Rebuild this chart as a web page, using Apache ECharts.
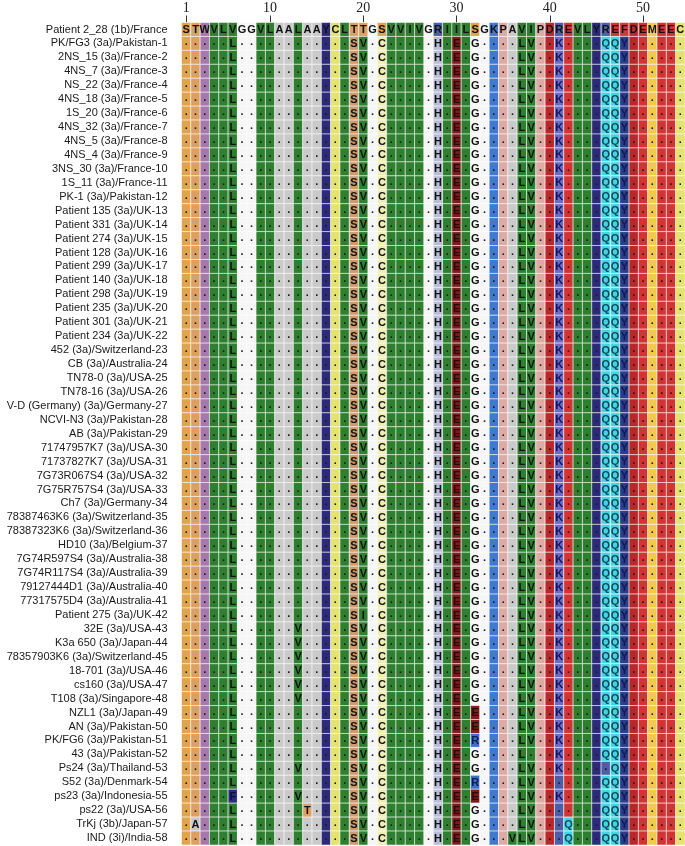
<!DOCTYPE html>
<html><head><meta charset="utf-8">
<script src="https://cdn.jsdelivr.net/npm/echarts@6/dist/echarts.min.js"></script>
<style>html,body{margin:0;padding:0;background:#fff}#c{width:685px;height:846px}</style>
</head><body><div id="c"></div>
<script>
// ---- data ----
const reference = 'STWVLVGGVLAALAAYCLTTGSVVIVGRIILSGKPAVIPDREVLYREFDEMEEC';
const tickPositions = ['1', '10', '20', '30', '40', '50'];
const names = [
  'Patient 2_28 (1b)/France',
  'PK/FG3 (3a)/Pakistan-1',
  '2NS_15 (3a)/France-2',
  '4NS_7 (3a)/France-3',
  'NS_22 (3a)/France-4',
  '4NS_18 (3a)/France-5',
  '1S_20 (3a)/France-6',
  '4NS_32 (3a)/France-7',
  '4NS_5 (3a)/France-8',
  '4NS_4 (3a)/France-9',
  '3NS_30 (3a)/France-10',
  '1S_11 (3a)/France-11',
  'PK-1 (3a)/Pakistan-12',
  'Patient 135 (3a)/UK-13',
  'Patient 331 (3a)/UK-14',
  'Patient 274 (3a)/UK-15',
  'Patient 128 (3a)/UK-16',
  'Patient 299 (3a)/UK-17',
  'Patient 140 (3a)/UK-18',
  'Patient 298 (3a)/UK-19',
  'Patient 235 (3a)/UK-20',
  'Patient 301 (3a)/UK-21',
  'Patient 234 (3a)/UK-22',
  '452 (3a)/Switzerland-23',
  'CB (3a)/Australia-24',
  'TN78-0 (3a)/USA-25',
  'TN78-16 (3a)/USA-26',
  'V-D (Germany) (3a)/Germany-27',
  'NCVI-N3 (3a)/Pakistan-28',
  'AB (3a)/Pakistan-29',
  '71747957K7 (3a)/USA-30',
  '71737827K7 (3a)/USA-31',
  '7G73R067S4 (3a)/USA-32',
  '7G75R757S4 (3a)/USA-33',
  'Ch7 (3a)/Germany-34',
  '78387463K6 (3a)/Switzerland-35',
  '78387323K6 (3a)/Switzerland-36',
  'HD10 (3a)/Belgium-37',
  '7G74R597S4 (3a)/Australia-38',
  '7G74R117S4 (3a)/Australia-39',
  '79127444D1 (3a)/Australia-40',
  '77317575D4 (3a)/Australia-41',
  'Patient 275 (3a)/UK-42',
  '32E (3a)/USA-43',
  'K3a 650 (3a)/Japan-44',
  '78357903K6 (3a)/Switzerland-45',
  '18-701 (3a)/USA-46',
  'cs160 (3a)/USA-47',
  'T108 (3a)/Singapore-48',
  'NZL1 (3a)/Japan-49',
  'AN (3a)/Pakistan-50',
  'PK/FG6 (3a)/Pakistan-51',
  '43 (3a)/Pakistan-52',
  'Ps24 (3a)/Thailand-53',
  'S52 (3a)/Denmark-54',
  'ps23 (3a)/Indonesia-55',
  'ps22 (3a)/USA-56',
  'TrKj (3b)/Japan-57',
  'IND (3i)/India-58'
];
// '.' = identical to the reference (row 0)
const alignment = [
  reference,
  '.....L............SV.C.....H.E.G....LV..K....QQY......',
  '.....L............SV.C.....H.E.G....LV..K....QQY......',
  '.....L............SV.C.....H.E.G....LV..K....QQY......',
  '.....L............SV.C.....H.E.G....LV..K....QQY......',
  '.....L............SV.C.....H.E.G....LV..K....QQY......',
  '.....L............SV.C.....H.E.G....LV..K....QQY......',
  '.....L............SV.C.....H.E.G....LV..K....QQY......',
  '.....L............SV.C.....H.E.G....LV..K....QQY......',
  '.....L............SV.C.....H.E.G....LV..K....QQY......',
  '.....L............SV.C.....H.E.G....LV..K....QQY......',
  '.....L............SV.C.....H.E.G....LV..K....QQY......',
  '.....L............SV.C.....H.E.G....LV..K....QQY......',
  '.....L............SV.C.....H.E.G....LV..K....QQY......',
  '.....L............SV.C.....H.E.G....LV..K....QQY......',
  '.....L............SV.C.....H.E.G....LV..K....QQY......',
  '.....L............SV.C.....H.E.G....LV..K....QQY......',
  '.....L............SV.C.....H.E.G....LV..K....QQY......',
  '.....L............SV.C.....H.E.G....LV..K....QQY......',
  '.....L............SV.C.....H.E.G....LV..K....QQY......',
  '.....L............SV.C.....H.E.G....LV..K....QQY......',
  '.....L............SV.C.....H.E.G....LV..K....QQY......',
  '.....L............SV.C.....H.E.G....LV..K....QQY......',
  '.....L............SV.C.....H.E.G....LV..K....QQY......',
  '.....L............SV.C.....H.E.G....LV..K....QQY......',
  '.....L............SV.C.....H.E.G....LV..K....QQY......',
  '.....L............SV.C.....H.E.G....LV..K....QQY......',
  '.....L............SV.C.....H.E.G....LV..K....QQY......',
  '.....L............SV.C.....H.E.G....LV..K....QQY......',
  '.....L............SV.C.....H.E.G....LV..K....QQY......',
  '.....L............SV.C.....H.E.G....LV..K....QQY......',
  '.....L............SV.C.....H.E.G....LV..K....QQY......',
  '.....L............SV.C.....H.E.G....LV..K....QQY......',
  '.....L............SV.C.....H.E.G....LV..K....QQY......',
  '.....L............SV.C.....H.E.G....LV..K....QQY......',
  '.....L............SV.C.....H.E.G....LV..K....QQY......',
  '.....L............SV.C.....H.E.G....LV..K....QQY......',
  '.....L............SV.C.....H.E.G....LV..K....QQY......',
  '.....L............SV.C.....H.E.G....LV..K....QQY......',
  '.....L............SV.C.....H.E.G....LV..K....QQY......',
  '.....L............SV.C.....H.E.G....LV..K....QQY......',
  '.....L............SV.C.....H.E.G....LV..K....QQY......',
  '.....L............SI.C.....H.E.G....LV..K....QQY......',
  '.....L......V.....SV.C.....H.E.G....LV..K....QQY......',
  '.....L......V.....SV.C.....H.E.G....LV..K....QQY......',
  '.....L......V.....SV.C.....H.E.G....LV..K....QQY......',
  '.....L......V.....SV.C.....H.E.G....LV..K....QQY......',
  '.....L......V.....SV.C.....H.E.G....LV..K....QQY......',
  '.....L......V.....SV.C.....H.E.G....LV..K....QQY......',
  '.....L............SV.C.....H.E.E....LV..K....QQY......',
  '.....L............SV.C.....H.E.E....LV..K....QQY......',
  '.....L............SV.C.....H.E.R....LV..K....QQY......',
  '.....L............SV.C.....H.E.G....L...K....QQY......',
  '.....L......V.....SV.C.....H.E.G....LV..K.....QY......',
  '.....L............SV.C.....H.E.R....LV.......QQY......',
  '.....F......V.....SV.C.....H.E.E....LV..K....QQY......',
  '.....L.......T....SV.C.....H.E.G....LV.......QQY......',
  '.A...L............SV.C.....H.E.G....LV...Q...QQY......',
  '.....L............SV.C.....H.E.G...VLV...Q...QQY......'
];

// ---- styles ----
const refColors = {
  S: '#e0a34e', T: '#dca062', W: '#a679ad', V: '#2f7f30', L: '#2f7f30', I: '#2f7f30',
  G: '#f6f6f6', A: '#cacaca', Y: '#2b2b7a', C: '#e4e270', R: '#4c5ea8', K: '#3f7ad0',
  H: '#b9bdd8', P: '#deaaa4', D: '#b82828', E: '#d23434', F: '#cc3c3c', M: '#f1c94f'
};
const mutColors = {
  L: '#2f7f30', V: '#2f7f30', I: '#2f7f30', S: '#cf9a6e', C: '#f1edb6', H: '#b9bdd8',
  E: '#7c1d1d', G: '#f6f6f6', K: '#6b6bc6', Q: '#44d4e4', Y: '#2b3d8a', R: '#3f6fcc',
  F: '#2b2b80', T: '#e0a062', A: '#c6c6c6'
};
const letterColors = { E: '#2a0808', K: '#14145a', Q: '#0c4a5a', Y: '#101850', F: '#0d0d40', R: '#0d1d50' };

const positions = Array.from({ length: reference.length }, (_, i) => String(i + 1));
const cells = [];
alignment.forEach((seq, r) => {
  for (let c = 0; c < seq.length; c++) {
    const ch = seq[c];
    const residue = ch === '.' ? reference[c] : ch;
    const color = (r === 0 || ch === '.') ? refColors[residue] : (mutColors[residue] || refColors[residue]);
    const txtColor = ch === '.' ? '#1a1a1a' : (r > 0 && letterColors[ch] ? letterColors[ch] : '#111');
    cells.push({ value: [c, r], ch: ch, fill: color, txt: txtColor });
  }
});

const chart = echarts.init(document.getElementById('c'), null, { renderer: 'canvas' });
const showTick = (idx, val) => tickPositions.indexOf(String(val)) >= 0;
chart.setOption({
  animation: false,
  backgroundColor: '#ffffff',
  grid: { left: 181.5, right: 0, top: 22.5, bottom: 1 },
  xAxis: {
    type: 'category', data: positions, position: 'top',
    axisLine: { show: false },
    axisTick: { show: true, alignWithLabel: true, interval: showTick, length: 7, lineStyle: { color: '#333', width: 1 } },
    axisLabel: { interval: showTick, margin: 7, fontFamily: 'Liberation Serif', fontSize: 14, color: '#222' },
    splitLine: { show: false }
  },
  yAxis: {
    type: 'category', data: names, inverse: true,
    axisLine: { show: false }, axisTick: { show: false },
    axisLabel: { interval: 0, margin: 14, fontFamily: 'Liberation Sans', fontSize: 11, color: '#1a1a1a' },
    splitLine: { show: false }
  },
  series: [{
    type: 'custom',
    progressive: 0,
    data: cells,
    encode: { x: 0, y: 1 },
    renderItem: function (params, api) {
      const item = cells[params.dataIndex];
      const p = api.coord([api.value(0), api.value(1)]);
      const s = api.size([1, 1]);
      const isDot = item.ch === '.';
      return {
        type: 'group',
        children: [{
          type: 'rect',
          shape: { x: p[0] - s[0] / 2, y: p[1] - s[1] / 2, width: s[0], height: s[1] },
          style: { fill: item.fill, stroke: 'rgba(255,255,255,0.5)', lineWidth: 1 }
        }, {
          type: 'text',
          x: p[0], y: isDot ? p[1] - 1 : p[1] + 0.5,
          style: {
            text: item.ch,
            fontFamily: 'Liberation Sans', fontWeight: 'bold', fontSize: 11,
            fill: item.txt, align: 'center', verticalAlign: 'middle'
          }
        }]
      };
    }
  }]
});
</script>
</body></html>
